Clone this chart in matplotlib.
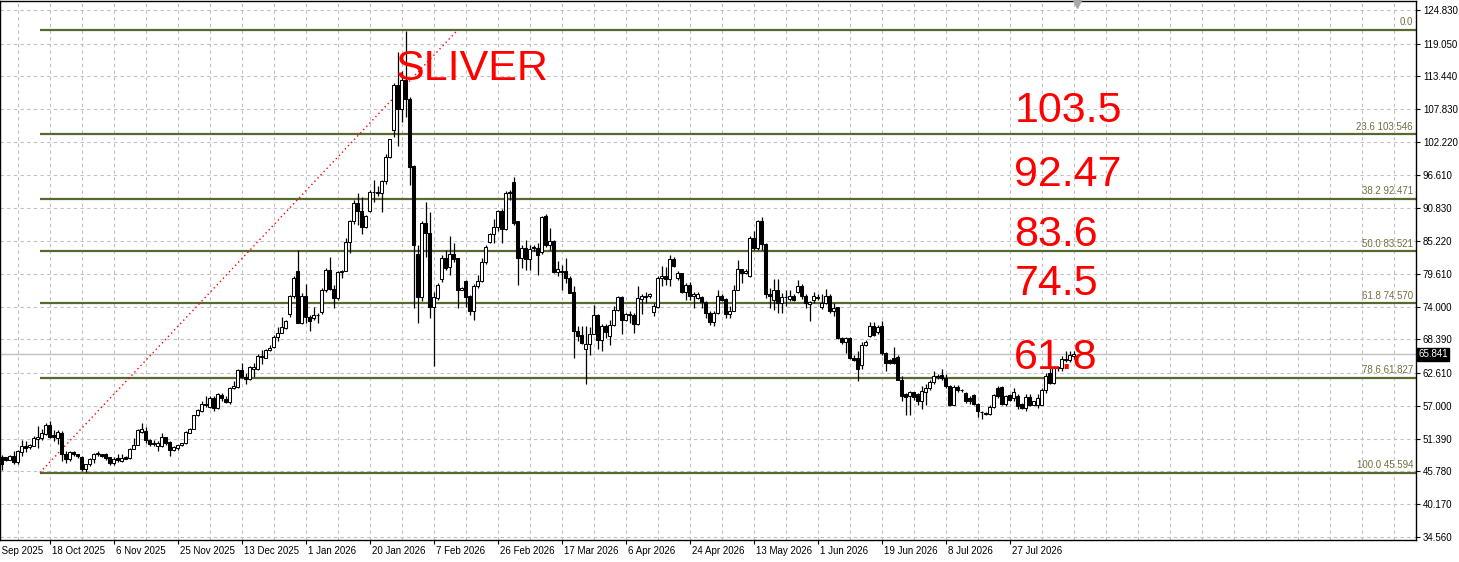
import numpy as np
import matplotlib
matplotlib.use("Agg")
import matplotlib.pyplot as plt
import matplotlib.transforms as mtransforms

# daily silver candles (open, high, low, close)
opens = [
    48.3, 48.2, 47.8, 48.5, 47.4, 49.1, 50.1, 49.9, 50.2, 51.4,
    51.5, 52.2, 53.7, 52.0, 51.5, 52.4, 48.7, 48.0, 49.1, 48.7,
    48.2, 46.2, 47.0, 48.0, 48.8, 48.7, 48.7, 48.2, 47.2, 48.1,
    47.6, 48.3, 48.1, 49.7, 50.3, 52.6, 52.7, 51.1, 50.7, 50.2,
    50.2, 51.6, 50.8, 49.5, 49.8, 50.3, 50.7, 52.4, 53.0, 55.4,
    56.1, 57.4, 56.8, 58.4, 56.7, 58.9, 58.2, 57.6, 60.1, 60.2,
    63.1, 62.0, 61.7, 63.4, 63.4, 65.4, 65.3, 66.6, 67.05, 68.8,
    69.5, 70.4, 72.7, 75.8, 80.2, 71.2, 75.9, 72.3, 72.1, 72.5,
    73.1, 76.9, 80.3, 77.1, 75.5, 79.9, 80.1, 85.1, 88.6, 91.7,
    90.4, 87.6, 90.4, 93.6, 93.7, 93.4, 95.5, 99.7, 104.2, 112.0,
    107.9, 112.9, 109.5, 98.1, 83.0, 75.6, 88.3, 86.7, 73.9, 75.5,
    78.7, 82.4, 80.8, 83.1, 82.3, 76.9, 78.4, 75.9, 73.2, 77.5,
    78.4, 81.6, 85.1, 86.5, 87.7, 90.4, 87.3, 93.4, 95.4, 88.6,
    82.3, 84.0, 82.2, 84.0, 84.0, 83.4, 89.6, 84.6, 85.2, 80.0,
    80.2, 80.2, 79.0, 76.5, 69.9, 69.1, 66.8, 67.6, 69.4, 72.5,
    68.3, 70.7, 68.9, 70.8, 73.5, 75.6, 71.7, 72.6, 72.5, 71.1,
    75.3, 75.7, 75.8, 73.1, 74.0, 79.0, 79.2, 78.8, 82.2, 79.0,
    79.7, 76.6, 77.8, 75.8, 75.5, 75.6, 74.8, 72.9, 71.4, 72.9,
    75.9, 75.4, 72.8, 73.3, 76.9, 80.4, 79.8, 79.2, 85.8, 84.0,
    88.6, 84.8, 76.1, 75.2, 76.8, 74.6, 75.6, 75.3, 75.8, 76.5,
    77.6, 75.9, 74.5, 75.1, 75.5, 73.9, 74.7, 75.9, 73.3, 73.9,
    68.6, 67.9, 68.7, 65.3, 65.2, 64.0, 67.5, 69.0, 70.7, 69.6,
    70.7, 66.0, 64.8, 65.3, 65.4, 61.5, 59.0, 58.7, 59.4, 59.0,
    57.8, 59.4, 60.0, 61.1, 62.2, 62.3, 61.8, 60.4, 57.2, 60.2,
    59.8, 59.2, 58.4, 58.8, 57.3, 56.0, 55.8, 55.6, 56.8, 60.1,
    60.2, 57.3, 58.8, 58.3, 58.7, 57.4, 56.7, 58.5, 57.2, 57.2,
    57.2, 59.8, 62.7, 61.0, 63.5, 63.5, 64.9, 64.8, 65.6,
]
highs = [
    48.6, 48.3, 48.6, 49.2, 49.4, 51.1, 51.0, 50.5, 51.9, 53.5,
    53.0, 54.1, 54.4, 52.8, 52.9, 52.7, 49.3, 49.3, 49.2, 48.8,
    48.4, 47.1, 48.1, 48.9, 49.2, 48.8, 48.9, 48.3, 48.2, 48.8,
    48.7, 48.4, 49.8, 51.5, 53.0, 54.1, 53.4, 51.4, 51.1, 51.0,
    52.3, 51.7, 51.0, 50.2, 50.3, 50.7, 52.7, 53.3, 55.5, 56.4,
    57.9, 58.7, 58.7, 58.7, 59.2, 59.2, 58.7, 60.2, 61.2, 63.4,
    64.4, 62.6, 63.8, 64.4, 65.9, 66.6, 66.8, 67.4, 69.2, 70.6,
    72.3, 71.8, 76.0, 79.2, 83.7, 76.3, 77.9, 72.5, 74.0, 72.9,
    77.2, 80.6, 82.6, 77.7, 80.1, 80.3, 85.7, 88.8, 92.3, 93.4,
    92.8, 89.7, 94.0, 95.7, 94.6, 95.7, 100.2, 102.8, 112.3, 117.6,
    114.4, 121.3, 109.9, 98.2, 84.6, 88.6, 92.0, 90.3, 76.6, 78.0,
    82.9, 83.8, 86.2, 84.9, 82.4, 77.3, 78.6, 76.0, 77.9, 79.5,
    82.3, 84.6, 86.6, 89.0, 90.6, 90.7, 93.8, 94.0, 96.2, 88.6,
    84.6, 85.4, 84.6, 84.6, 84.9, 89.6, 89.9, 87.5, 85.5, 81.8,
    81.2, 82.4, 79.2, 77.5, 70.7, 70.7, 70.7, 70.5, 74.3, 72.7,
    71.0, 71.0, 71.8, 74.1, 75.8, 75.8, 72.9, 73.2, 72.9, 77.5,
    76.1, 76.6, 76.4, 74.7, 79.2, 80.9, 80.8, 82.9, 82.5, 80.1,
    79.8, 78.1, 78.3, 76.5, 76.5, 75.8, 75.0, 73.2, 73.2, 76.8,
    76.1, 75.5, 74.1, 77.7, 82.0, 80.5, 80.4, 86.1, 87.0, 88.8,
    89.3, 84.9, 77.2, 78.8, 78.8, 76.4, 76.9, 76.9, 76.1, 78.6,
    77.9, 76.1, 74.9, 76.5, 76.2, 76.2, 77.0, 76.2, 74.7, 74.0,
    68.8, 68.8, 68.8, 65.7, 66.5, 67.9, 68.3, 71.3, 71.3, 70.9,
    71.6, 66.3, 65.0, 67.1, 65.7, 62.1, 59.2, 59.5, 59.4, 59.2,
    60.4, 60.7, 61.5, 63.0, 62.5, 63.3, 62.4, 60.6, 60.6, 60.6,
    59.9, 59.4, 58.7, 59.1, 57.5, 56.1, 56.0, 57.1, 59.1, 60.4,
    60.4, 58.8, 59.1, 60.0, 59.0, 57.5, 59.1, 59.1, 57.9, 59.1,
    60.0, 62.7, 63.7, 63.8, 63.8, 65.6, 66.4, 66.5, 66.4,
]
lows = [
    46.0, 47.6, 47.7, 47.1, 47.1, 48.4, 49.1, 49.6, 50.2, 49.8,
    51.1, 52.1, 51.5, 51.0, 50.4, 47.6, 47.3, 47.6, 48.4, 48.1,
    45.9, 45.7, 46.8, 47.3, 48.4, 48.3, 47.8, 46.9, 46.9, 47.4,
    47.4, 47.9, 48.0, 49.7, 50.3, 52.4, 50.7, 50.2, 50.1, 49.2,
    50.0, 50.3, 48.4, 49.3, 49.4, 50.1, 50.5, 52.3, 53.0, 55.2,
    56.0, 56.8, 56.7, 56.1, 56.4, 57.9, 57.5, 57.4, 59.9, 60.1,
    61.8, 60.7, 61.5, 61.9, 63.2, 64.2, 65.2, 66.5, 66.9, 68.1,
    69.5, 70.1, 72.3, 75.5, 71.2, 71.0, 71.2, 69.9, 71.8, 71.2,
    72.7, 76.6, 76.9, 73.7, 75.2, 79.0, 80.1, 83.2, 88.1, 88.0,
    86.5, 87.4, 90.3, 92.0, 92.9, 90.2, 95.0, 99.4, 103.1, 101.6,
    105.6, 106.5, 94.8, 73.8, 71.2, 74.9, 82.6, 72.1, 63.8, 75.2,
    78.3, 80.3, 79.5, 81.7, 73.8, 76.8, 74.0, 72.6, 71.8, 77.2,
    78.3, 81.3, 84.9, 84.9, 87.0, 85.0, 87.1, 92.3, 88.0, 77.7,
    80.6, 80.3, 80.3, 83.5, 79.5, 83.0, 84.3, 83.8, 79.8, 79.2,
    76.9, 78.1, 76.3, 65.2, 68.1, 67.6, 60.8, 65.8, 69.3, 66.7,
    66.5, 68.7, 67.5, 70.7, 73.3, 69.3, 71.5, 71.2, 69.5, 70.9,
    72.8, 74.7, 75.5, 72.4, 73.8, 77.5, 77.8, 77.5, 80.8, 78.5,
    76.4, 75.2, 75.2, 73.8, 75.4, 73.8, 72.1, 70.9, 70.7, 72.8,
    75.0, 72.0, 72.1, 73.2, 76.8, 78.1, 79.6, 79.1, 83.8, 83.8,
    83.8, 75.5, 73.8, 73.5, 72.9, 72.9, 74.1, 74.9, 75.0, 76.4,
    75.4, 73.8, 71.5, 74.7, 75.1, 73.6, 74.5, 73.0, 72.4, 68.4,
    67.6, 66.0, 65.0, 64.7, 61.3, 63.4, 67.3, 68.8, 69.0, 69.4,
    65.7, 63.0, 64.2, 64.2, 61.4, 57.8, 55.4, 55.5, 58.1, 57.1,
    56.4, 57.2, 59.8, 60.8, 61.7, 61.4, 60.1, 57.0, 57.1, 59.4,
    59.4, 57.5, 57.4, 57.2, 55.1, 54.7, 55.5, 55.4, 56.7, 58.4,
    57.1, 57.0, 57.9, 57.9, 56.4, 56.4, 56.2, 57.0, 57.1, 56.7,
    57.1, 59.2, 60.8, 60.8, 63.0, 63.0, 64.6, 64.6, 65.0,
]
closes = [
    47.0, 47.8, 48.5, 47.4, 49.3, 50.1, 49.8, 50.3, 51.5, 51.7,
    52.3, 53.8, 51.6, 51.7, 52.6, 48.8, 48.0, 49.1, 48.7, 48.4,
    46.2, 47.0, 48.0, 48.7, 48.9, 48.4, 48.1, 47.2, 48.0, 47.7,
    48.1, 48.0, 49.7, 50.3, 52.9, 53.0, 51.1, 50.4, 50.4, 50.7,
    51.6, 50.6, 49.5, 49.9, 50.3, 50.7, 52.5, 53.0, 55.4, 56.3,
    57.4, 57.1, 58.4, 56.7, 59.1, 58.3, 57.6, 60.1, 60.4, 63.1,
    61.9, 61.7, 63.6, 63.6, 65.5, 65.5, 66.6, 67.0, 68.8, 69.5,
    70.5, 71.6, 75.9, 79.0, 71.2, 75.9, 72.2, 71.5, 72.5, 72.6,
    76.9, 80.3, 77.1, 75.5, 80.0, 80.1, 85.1, 88.6, 91.7, 90.4,
    87.6, 89.6, 93.7, 93.7, 93.4, 95.5, 99.7, 102.8, 112.0, 107.9,
    112.9, 109.5, 97.9, 84.6, 75.6, 88.3, 86.6, 73.9, 75.6, 77.7,
    82.4, 80.7, 83.1, 82.2, 76.9, 77.2, 75.7, 73.2, 77.6, 78.4,
    81.6, 84.3, 86.5, 87.7, 90.4, 87.3, 93.4, 93.7, 88.3, 82.3,
    84.0, 82.2, 83.9, 84.2, 82.9, 89.4, 84.6, 85.2, 80.0, 80.4,
    79.9, 78.9, 76.4, 69.8, 68.9, 67.8, 67.7, 69.4, 72.5, 68.3,
    70.7, 69.7, 70.9, 73.5, 75.6, 71.7, 72.8, 72.7, 71.1, 75.5,
    75.8, 75.8, 76.1, 74.1, 79.0, 79.2, 78.8, 82.1, 80.9, 79.7,
    76.6, 77.8, 75.8, 76.2, 76.2, 74.8, 72.9, 71.4, 73.0, 75.9,
    75.2, 72.7, 73.3, 76.9, 80.4, 79.8, 80.2, 85.8, 84.0, 88.6,
    84.8, 76.1, 75.8, 76.8, 74.6, 75.6, 75.7, 75.8, 75.2, 77.6,
    75.9, 74.7, 74.8, 75.9, 75.7, 74.6, 75.9, 73.2, 73.8, 68.6,
    67.9, 68.7, 65.2, 64.8, 63.3, 67.5, 68.0, 70.7, 69.2, 70.6,
    66.0, 64.4, 64.4, 64.4, 61.5, 58.7, 58.5, 59.4, 58.6, 57.9,
    59.5, 60.1, 61.1, 62.1, 61.9, 61.8, 60.4, 57.1, 60.2, 59.8,
    59.7, 57.8, 57.8, 57.3, 56.1, 55.9, 55.7, 56.8, 58.8, 58.7,
    57.3, 58.7, 58.1, 59.4, 57.0, 56.7, 58.5, 57.1, 57.8, 58.4,
    59.8, 62.1, 61.0, 63.7, 63.6, 65.0, 65.0, 65.7, 65.841,
]

price_ticks = [124.830, 119.050, 113.440, 107.830, 102.220, 96.610, 90.830, 85.220,
               79.610, 74.000, 68.390, 62.610, 57.000, 51.390, 45.780, 40.170, 34.560]
date_labels = ["29 Sep 2025", "18 Oct 2025", "6 Nov 2025", "25 Nov 2025", "13 Dec 2025",
               "1 Jan 2026", "20 Jan 2026", "7 Feb 2026", "26 Feb 2026", "17 Mar 2026",
               "6 Apr 2026", "24 Apr 2026", "13 May 2026", "1 Jun 2026", "19 Jun 2026",
               "8 Jul 2026", "27 Jul 2026"]

# fibonacci retracement levels as printed on the chart
fib_pcts = ["0.0", "23.6", "38.2", "50.0", "61.8", "78.6", "100.0"]
fib_values = [121.447, 103.546, 92.471, 83.521, 74.570, 61.827, 45.594]
last_price = 65.841

big_labels = ["103.5", "92.47", "83.6", "74.5", "61.8"]
big_label_y = [105.64, 94.68, 84.40, 76.01, 63.33]

n = len(opens)
x = np.arange(n)

fig = plt.figure(figsize=(14.59, 5.62), dpi=100)
fig.patch.set_facecolor("white")
ax = fig.add_axes([0, 22 / 562, 1416 / 1459, 539 / 562])
ax.set_xlim(-0.375, 353.625)
ax.set_ylim(34.04, 126.37)

grid_col = "#c0c0c0"
for p in price_ticks:
    ax.axhline(p, color=grid_col, lw=0.8, ls=(0, (3, 3)), zorder=0)
for b in range(4, 354, 8):
    ax.axvline(b, color=grid_col, lw=0.8, ls=(0, (3, 3)), zorder=0)

# current price line
ax.axhline(last_price, color="#c0c0c0", lw=1.0, zorder=0.5)

# fibonacci levels
fib_col = "#56692f"
fib_x0 = 9.6
for pct, val in zip(fib_pcts, fib_values):
    ax.plot([fib_x0, 353.625], [val, val], color=fib_col, lw=1.6, zorder=1,
            solid_capstyle="butt")
    txt = pct if pct == "0.0" else "%s %.3f" % (pct, val)
    ax.text(352.9, val + 0.45, txt, ha="right", va="bottom", fontsize=7,
            color="#707040", family="Liberation Sans", zorder=2)

# red dotted trend line of the fib
ax.plot([fib_x0, 114.1], [fib_values[-1], fib_values[0]], color="red", lw=1.0,
        ls=(0, (1, 2.2)), zorder=2)

# candles
o = np.array(opens); h = np.array(highs); l = np.array(lows); c = np.array(closes)
ax.vlines(x, l, h, color="black", lw=0.9, zorder=3)
bottoms = np.minimum(o, c)
heights = np.maximum(np.abs(c - o), 0.12)
cols = np.where(c >= o, "white", "black")
ax.bar(x, heights, bottom=bottoms, width=0.58, color=cols, edgecolor="black",
       linewidth=0.75, zorder=4)

# big red annotations
ax.text(98.5, 112.84, "SLIVER", color="red", fontsize=31, family="Liberation Sans",
        va="baseline", ha="left", zorder=5)
for s, yv in zip(big_labels, big_label_y):
    ax.text(253.2, yv, s, color="red", fontsize=31, family="Liberation Sans",
            va="baseline", ha="left", zorder=5)

# axes styling
for side in ["top", "right", "bottom", "left"]:
    ax.spines[side].set_color("black")
    ax.spines[side].set_linewidth(1.0)
ax.yaxis.tick_right()
ax.set_yticks(price_ticks)
ax.set_yticklabels(["%.3f" % p for p in price_ticks])
ax.tick_params(axis="y", length=3, width=0.8, pad=2, labelsize=7, colors="black")
for t in ax.get_yticklabels():
    t.set_family("Liberation Sans")

date_bars = [-4 + 16 * k for k in range(len(date_labels))]
ax.set_xticks([b for b in date_bars if b >= 0])
ax.set_xticklabels([])
ax.tick_params(axis="x", length=3, width=0.8, direction="out")
trans = mtransforms.blended_transform_factory(ax.transData, ax.transAxes)
for b, s in zip(date_bars, date_labels):
    ax.text(b + 0.5, -0.012, s, transform=trans, ha="left", va="top", fontsize=7,
            family="Liberation Sans", clip_on=False)

# last price box on the scale
ax.text(1.0015, last_price, "65.841", transform=mtransforms.blended_transform_factory(
    ax.transAxes, ax.transData), ha="left", va="center", fontsize=7, color="white",
    family="Liberation Sans",
    bbox=dict(boxstyle="square,pad=0.15", fc="black", ec="black"), clip_on=False)

# chart shift marker
ax.plot([268.9], [125.8], marker="v", color="#a8a8a8", ms=6, clip_on=False, zorder=6)

fig.savefig("out.png", dpi=100, facecolor="white")
